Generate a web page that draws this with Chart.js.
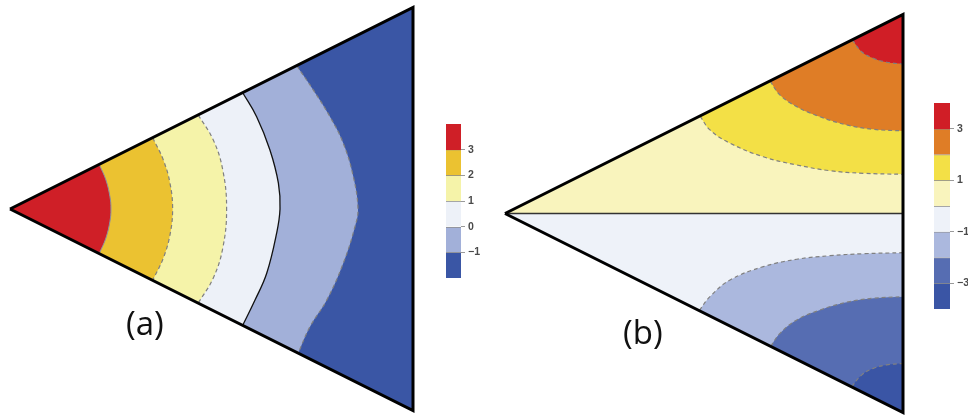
<!DOCTYPE html>
<html lang="es">
<head>
<meta charset="utf-8">
<title>Contornos en el triángulo</title>
<script src="https://cdn.jsdelivr.net/npm/chart.js@4.4.1/dist/chart.umd.min.js"></script>
<style>
  html, body { margin: 0; padding: 0; background: #fff; overflow: hidden; }
  #lienzo { position: relative; width: 968px; height: 418px; }
  canvas { position: absolute; }
  .etiqueta { position: absolute; font-family: "Open Sans", sans-serif; font-size: 33px; line-height: 33px; color: #111; }
</style>
</head>
<body>
<div id="lienzo">
  <canvas id="panelA" width="420" height="418" style="left:0;top:0"></canvas>
  <canvas id="barraA" width="45" height="174" style="left:446px;top:114px"></canvas>
  <canvas id="panelB" width="440" height="418" style="left:480px;top:0"></canvas>
  <canvas id="barraB" width="46" height="226" style="left:934px;top:93px"></canvas>
  <div class="etiqueta" style="left:126px;top:306px">(a)</div>
  <div class="etiqueta" style="left:623px;top:315px">(b)</div>
</div>
<script>
"use strict";
// Triángulo: vértice en (0,0), lado derecho en x = 2, lados y = ±x/2
const triangulo = [[0, 0], [2, 1], [2, -1]];

// Panel (a): curvas de nivel (de arriba hacia abajo)
const nivelesA = [3, 2, 1, 0, -1];
const curvaA3 = [[0.443, 0.221], [0.476, 0.144], [0.496, 0.061], [0.501, 0], [0.496, -0.061], [0.476, -0.144], [0.443, -0.221]];
const curvaA2 = [[0.708, 0.354], [0.761, 0.243], [0.794, 0.128], [0.807, 0], [0.794, -0.128], [0.761, -0.243], [0.708, -0.354]];
const curvaA1 = [[0.934, 0.467], [1.009, 0.342], [1.056, 0.194], [1.075, 0], [1.056, -0.194], [1.009, -0.342], [0.934, -0.467]];
const curvaA0 = [[1.155, 0.577], [1.224, 0.458], [1.290, 0.293], [1.332, 0.128], [1.340, 0], [1.323, -0.121], [1.274, -0.319], [1.216, -0.452], [1.155, -0.577]];
const curvaAm1 = [[1.423, 0.711], [1.505, 0.591], [1.588, 0.458], [1.654, 0.326], [1.704, 0.160], [1.727, 0], [1.712, -0.088], [1.654, -0.269], [1.572, -0.452], [1.489, -0.584], [1.430, -0.715]];
const curvasA = [curvaA3, curvaA2, curvaA1, curvaA0, curvaAm1];

// Panel (b): mitad superior (niveles positivos) y mitad inferior (negativos)
const nivelesBsup = [1, 2, 3];
const curvaB1 = [[0.980, 0.490], [1.030, 0.420], [1.131, 0.353], [1.298, 0.285], [1.466, 0.244], [1.633, 0.215], [1.801, 0.202], [2.0, 0.197]];
const curvaB2 = [[1.332, 0.666], [1.382, 0.595], [1.466, 0.537], [1.583, 0.486], [1.717, 0.445], [1.851, 0.423], [2.0, 0.415]];
const curvaB3 = [[1.745, 0.873], [1.792, 0.813], [1.851, 0.780], [1.918, 0.760], [2.0, 0.751]];
const nivelesBinf = [-1, -2, -3];
const curvaBm1 = [[0.976, -0.488], [1.030, -0.418], [1.131, -0.334], [1.298, -0.267], [1.466, -0.230], [1.633, -0.212], [1.801, -0.202], [2.0, -0.197]];
const curvaBm2 = [[1.335, -0.668], [1.382, -0.602], [1.466, -0.535], [1.583, -0.485], [1.717, -0.446], [1.851, -0.426], [2.0, -0.418]];
const curvaBm3 = [[1.742, -0.871], [1.792, -0.812], [1.851, -0.778], [1.918, -0.761], [2.0, -0.753]];
const curvaB0 = [[0, 0], [2, 0]];

// Barras de color: bordes de las bandas (de arriba hacia abajo) y marcas
const bordesA = [4, 3, 2, 1, 0, -1, -2];
const marcasA = [3, 2, 1, 0, -1];
const bordesB = [4, 3, 2, 1, 0, -1, -2, -3, -4];
const marcasB = [3, 1, -1, -3];

// Colores de las bandas (de arriba hacia abajo)
const coloresA = ["#CF1F27", "#EBC231", "#F5F3A9", "#EDF1F8", "#A2B0D9", "#3A56A5"];
const coloresB = ["#D01E26", "#DF7D26", "#F3E046", "#F9F4BD", "#EEF2F9", "#ABB8DE", "#566DB2", "#3A55A5"];

// Estilos de los contornos
const guion = { color: "#808080", ancho: 1.2, guiones: [4, 3] };
const estilosA = {
    3: { color: "#8b8fa0", ancho: 1, guiones: [] },
    2: guion,
    1: guion,
    0: { color: "#111", ancho: 1.3, guiones: [] },
    "-1": guion
};

const punto = ([x, y]) => ({ x, y });
const doble = (p) => [punto(p), punto(p)];

// Polígono con curva suave y esquinas rectas (puntos duplicados en las esquinas)
function poligono(curva, esquinas) {
    const n = curva.length - 1;
    return [
        ...doble(curva[0]),
        ...curva.slice(1, n).map(punto),
        ...doble(curva[n]),
        ...esquinas.flatMap(doble),
        ...doble(curva[0])
    ];
}

const relleno = (puntos, color, tension) => ({
    data: puntos, fill: "shape", backgroundColor: color,
    borderColor: "transparent", borderWidth: 0, tension, pointRadius: 0
});
const trazo = (puntos, estilo, tension) => ({
    data: puntos, fill: false, borderColor: estilo.color, borderWidth: estilo.ancho,
    borderDash: estilo.guiones, tension, pointRadius: 0
});

function ordenar(capas) {
    // la primera capa queda abajo
    capas.forEach((c, i) => { c.order = -i; });
    return capas;
}

function panel(id, capas, marco) {
    const u = marco.unidad;
    return new Chart(document.getElementById(id), {
        type: "line",
        data: { datasets: ordenar(capas) },
        options: {
            responsive: false,
            animation: false,
            events: [],
            layout: { padding: 0 },
            plugins: { legend: { display: false }, tooltip: { enabled: false } },
            scales: {
                x: { type: "linear", display: false, min: -marco.vx / u, max: (marco.ancho - marco.vx) / u },
                y: { type: "linear", display: false, min: -(marco.alto - marco.vy) / u, max: marco.vy / u }
            }
        }
    });
}

function barraColores(id, bordes, colores, marcas) {
    const datasets = colores.map((c, i) => ({
        data: [[bordes[i + 1], bordes[i]]],
        backgroundColor: c,
        borderColor: "#8d8d8d",
        borderWidth: { top: i === 0 ? 0 : 1, bottom: 0, left: 0, right: 0 },
        borderSkipped: false,
        grouped: false,
        barPercentage: 1,
        categoryPercentage: 1
    }));
    return new Chart(document.getElementById(id), {
        type: "bar",
        data: { labels: [""], datasets },
        options: {
            responsive: false,
            animation: false,
            events: [],
            layout: { padding: { top: 10, bottom: 10, left: 0, right: 0 } },
            plugins: { legend: { display: false }, tooltip: { enabled: false } },
            scales: {
                x: { display: false },
                y: {
                    position: "right",
                    min: bordes[bordes.length - 1],
                    max: bordes[0],
                    afterBuildTicks: (eje) => { eje.ticks = marcas.map(v => ({ value: v })); },
                    afterFit: (eje) => { eje.width = 30; },
                    grid: { drawOnChartArea: false, drawTicks: true, tickLength: 4, color: "#9a9a9a" },
                    border: { display: false },
                    ticks: {
                        padding: 3,
                        color: "#4a4a4a",
                        font: { family: "Liberation Sans", size: 10.5, weight: "bold" },
                        callback: (v) => String(v).replace("-", "\u2212")
                    }
                }
            }
        }
    });
}

// Panel (a)
const capasA = [relleno([...triangulo, triangulo[0]].map(punto), coloresA[coloresA.length - 1], 0)];
for (let k = curvasA.length - 1; k >= 0; k--) {
    capasA.push(relleno(poligono(curvasA[k], [triangulo[0]]), coloresA[k], 0.4));
}
curvasA.forEach((curva, k) => capasA.push(trazo(curva.map(punto), estilosA[nivelesA[k]], 0.4)));
capasA.push(trazo([...triangulo, triangulo[0]].map(punto), { color: "#000", ancho: 3, guiones: [] }, 0));
panel("panelA", capasA, { ancho: 420, alto: 418, vx: 10, vy: 209, unidad: 201.5 });

// Panel (b)
const curvasBsup = [curvaB1, curvaB2, curvaB3];
const curvasBinf = [curvaBm1, curvaBm2, curvaBm3];
const capasB = [
    relleno([[0, 0], [2, 1], [2, 0], [0, 0]].map(punto), coloresB[3], 0),
    relleno([[0, 0], [2, 0], [2, -1], [0, 0]].map(punto), coloresB[4], 0)
];
curvasBsup.forEach((curva, k) => capasB.push(relleno(poligono(curva, [triangulo[1]]), coloresB[2 - k], 0.4)));
curvasBinf.forEach((curva, k) => capasB.push(relleno(poligono(curva, [triangulo[2]]), coloresB[5 + k], 0.4)));
[...curvasBsup, ...curvasBinf].forEach(curva => capasB.push(trazo(curva.map(punto), guion, 0.4)));
capasB.push(trazo(curvaB0.map(punto), { color: "#333", ancho: 1.5, guiones: [] }, 0));
capasB.push(trazo([...triangulo, triangulo[0]].map(punto), { color: "#000", ancho: 3, guiones: [] }, 0));
panel("panelB", capasB, { ancho: 440, alto: 418, vx: 25, vy: 213.5, unidad: 199 });

// Barras de color
barraColores("barraA", bordesA, coloresA, marcasA);
barraColores("barraB", bordesB, coloresB, marcasB);
</script>
</body>
</html>
